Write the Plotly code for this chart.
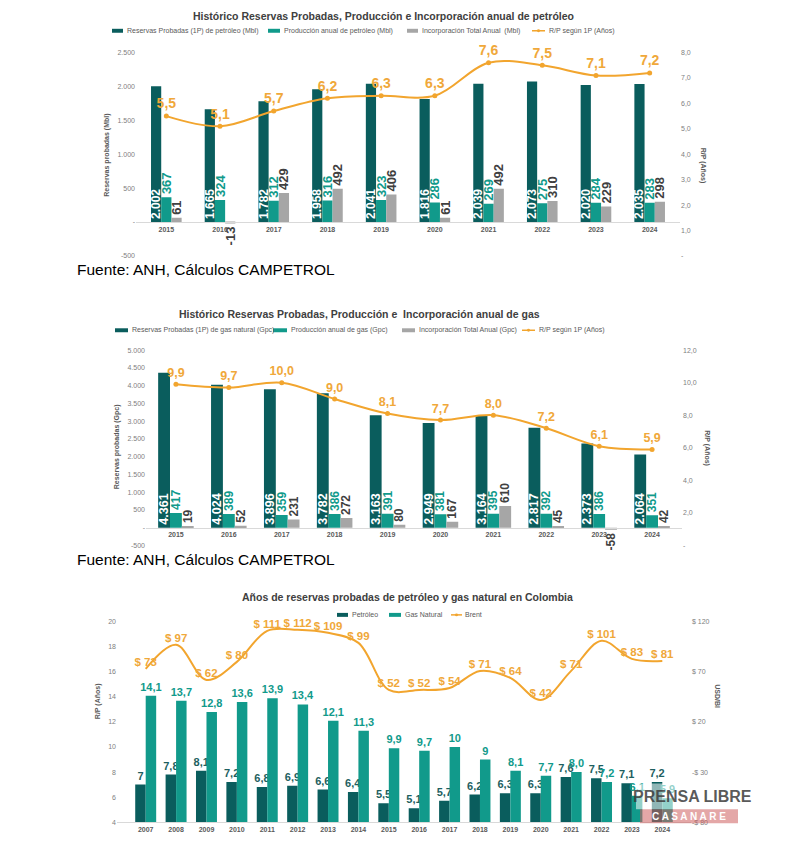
import plotly.graph_objects as go

W, H = 809, 842

# ---------------- data ----------------
years_a = ["2015", "2016", "2017", "2018", "2019", "2020", "2021", "2022", "2023", "2024"]
oil_reserves = [2002, 1665, 1782, 1958, 2041, 1816, 2039, 2073, 2020, 2035]
oil_production = [367, 324, 312, 316, 323, 286, 269, 275, 284, 283]
oil_incorporation = [61, -13, 429, 492, 406, 61, 492, 310, 229, 298]
oil_rp = [5.5, 5.1, 5.7, 6.2, 6.3, 6.3, 7.6, 7.5, 7.1, 7.2]

gas_reserves = [4361, 4024, 3896, 3782, 3163, 2949, 3164, 2817, 2373, 2064]
gas_production = [417, 389, 359, 386, 391, 381, 395, 392, 386, 351]
gas_incorporation = [19, 52, 231, 272, 80, 167, 610, 45, -58, 42]
gas_rp = [9.9, 9.7, 10.0, 9.0, 8.1, 7.7, 8.0, 7.2, 6.1, 5.9]

years_b = [str(y) for y in range(2007, 2025)]
rp_oil = [7, 7.8, 8.1, 7.2, 6.8, 6.9, 6.6, 6.4, 5.5, 5.1, 5.7, 6.2, 6.3, 6.3, 7.6, 7.5, 7.1, 7.2]
rp_oil_labels = ["7", "7,8", "8,1", "7,2", "6,8", "6,9", "6,6", "6,4", "5,5", "5,1", "5,7", "6,2",
                 "6,3", "6,3", "7,6", "7,5", "7,1", "7,2"]
rp_gas = [14.1, 13.7, 12.8, 13.6, 13.9, 13.4, 12.1, 11.3, 9.9, 9.7, 10, 9, 8.1, 7.7, 8.0, 7.2, 6.1, 5.9]
rp_gas_labels = ["14,1", "13,7", "12,8", "13,6", "13,9", "13,4", "12,1", "11,3", "9,9", "9,7", "10",
                 "9", "8,1", "7,7", "8,0", "7,2", "6,1", "5,9"]
brent = [73, 97, 62, 80, 111, 112, 109, 99, 52, 52, 54, 71, 64, 42, 71, 101, 83, 81]

# tick labels
ticks_a_left = [-500, 0, 500, 1000, 1500, 2000, 2500]
ticks_a_left_txt = ["-500", "-", "500", "1.000", "1.500", "2.000", "2.500"]
ticks_a_right = [0, 1, 2, 3, 4, 5, 6, 7, 8]
ticks_a_right_txt = ["-", "1,0", "2,0", "3,0", "4,0", "5,0", "6,0", "7,0", "8,0"]
ticks_b_left = [-500, 0, 500, 1000, 1500, 2000, 2500, 3000, 3500, 4000, 4500, 5000]
ticks_b_left_txt = ["-500", "-", "500", "1.000", "1.500", "2.000", "2.500", "3.000", "3.500",
                    "4.000", "4.500", "5.000"]
ticks_b_right = [0, 2, 4, 6, 8, 10, 12]
ticks_b_right_txt = ["-", "2,0", "4,0", "6,0", "8,0", "10,0", "12,0"]
ticks_c_left = [4, 6, 8, 10, 12, 14, 16, 18, 20]
ticks_c_right = [-80, -30, 20, 70, 120]
ticks_c_right_txt = ["-$ 80", "-$ 30", "$ 20", "$ 70", "$ 120"]

# legend labels
legend_a = ["Reservas Probadas (1P) de petróleo (Mbl)", "Producción anual de petróleo (Mbl)",
            "Incorporación Total Anual  (Mbl)", "R/P según 1P (Años)"]
legend_b = ["Reservas Probadas (1P) de gas natural (Gpc)", "Producción anual de gas (Gpc)",
            "Incorporación Total Anual (Gpc)", "R/P según 1P (Años)"]
legend_c = ["Petróleo", "Gas Natural", "Brent"]

# ---------------- style ----------------
DARK = "#0a5d5d"
TEAL = "#119a8b"
GREY = "#a6a6a6"
ORANGE = "#f2a52e"
ORANGE_TXT = "#f0a83a"
TXT = "#404040"
TICK = "#808080"
FONT = "Liberation Sans"


def py(p):
    return 1 - p / H


def px(p):
    return p / W


fig = go.Figure()


def bar(x, y, xa, ya, color, width, offset, name, **kw):
    return go.Bar(x=x, y=y, xaxis=xa, yaxis=ya, name=name,
                  marker=dict(color=color, line=dict(width=0)), width=width, offset=offset,
                  constraintext="none", textangle=-90, **kw)


# ---- chart 1 (oil) ----
w1 = 0.19
fig.add_trace(bar(years_a, oil_reserves, "x", "y", DARK, w1, -1.5 * w1, legend_a[0],
                  texttemplate="%{y:,.0f}", textposition="inside", insidetextanchor="start",
                  textfont=dict(color="white", size=12, family=FONT, weight="bold")))
fig.add_trace(bar(years_a, oil_production, "x", "y", TEAL, w1, -0.5 * w1, legend_a[1],
                  texttemplate="%{y:,.0f}", textposition="outside", cliponaxis=False,
                  textfont=dict(color=TEAL, size=13, family=FONT, weight="bold")))
fig.add_trace(bar(years_a, oil_incorporation, "x", "y", GREY, w1, 0.5 * w1, legend_a[2],
                  texttemplate="%{y:,.0f}", textposition="outside", cliponaxis=False,
                  textfont=dict(color=TXT, size=13, family=FONT, weight="bold")))
fig.add_trace(go.Scatter(x=years_a, y=oil_rp, xaxis="x", yaxis="y2", name=legend_a[3],
                         mode="lines+markers+text", cliponaxis=False,
                         line=dict(color=ORANGE, width=2, shape="spline"),
                         marker=dict(size=5, color=ORANGE),
                         texttemplate="%{y:.1f}", textposition="top center",
                         textfont=dict(color=ORANGE_TXT, size=14, family=FONT, weight="bold")))

# ---- chart 2 (gas) ----
w2 = 0.224
fig.add_trace(bar(years_a, gas_reserves, "x2", "y3", DARK, w2, -1.5 * w2, legend_b[0],
                  texttemplate="%{y:,.0f}", textposition="inside", insidetextanchor="start",
                  textfont=dict(color="white", size=12.5, family=FONT, weight="bold")))
fig.add_trace(bar(years_a, gas_production, "x2", "y3", TEAL, w2, -0.5 * w2, legend_b[1],
                  texttemplate="%{y:,.0f}", textposition="outside", cliponaxis=False,
                  textfont=dict(color=TEAL, size=12, family=FONT, weight="bold")))
fig.add_trace(bar(years_a, gas_incorporation, "x2", "y3", GREY, w2, 0.5 * w2, legend_b[2],
                  texttemplate="%{y:,.0f}", textposition="outside", cliponaxis=False,
                  textfont=dict(color=TXT, size=12, family=FONT, weight="bold")))
fig.add_trace(go.Scatter(x=years_a, y=gas_rp, xaxis="x2", yaxis="y4", name=legend_b[3],
                         mode="lines+markers+text", cliponaxis=False,
                         line=dict(color=ORANGE, width=2, shape="spline"),
                         marker=dict(size=5, color=ORANGE),
                         texttemplate="%{y:.1f}", textposition="top center",
                         textfont=dict(color=ORANGE_TXT, size=12.5, family=FONT, weight="bold")))

# ---- chart 3 (R/P years + Brent) ----
w3 = 0.345
fig.add_trace(go.Bar(x=years_b, y=rp_oil, xaxis="x3", yaxis="y5", name=legend_c[0],
                     marker=dict(color=DARK, line=dict(width=0)), width=w3, offset=-w3,
                     text=rp_oil_labels, textposition="outside", constraintext="none",
                     textfont=dict(color="#1e5f5f", size=11, family=FONT, weight="bold")))
fig.add_trace(go.Bar(x=years_b, y=rp_gas, xaxis="x3", yaxis="y5", name=legend_c[1],
                     marker=dict(color=TEAL, line=dict(width=0)), width=w3, offset=0,
                     text=rp_gas_labels, textposition="outside", constraintext="none",
                     textfont=dict(color=TEAL, size=11, family=FONT, weight="bold")))
fig.add_trace(go.Scatter(x=years_b, y=brent, xaxis="x3", yaxis="y6", name=legend_c[2],
                         mode="lines+text", cliponaxis=False,
                         line=dict(color=ORANGE, width=2, shape="spline"),
                         texttemplate="$ %{y}", textposition="top center",
                         textfont=dict(color=ORANGE_TXT, size=11.5, family=FONT, weight="bold")))

tickfont = dict(size=7, color=TICK, family=FONT)
xtickfont = dict(size=7, color="#595959", family=FONT, weight="bold")

fig.update_layout(
    width=W, height=H, margin=dict(l=0, r=0, t=0, b=0),
    paper_bgcolor="white", plot_bgcolor="rgba(0,0,0,0)",
    separators=",.", barmode="overlay", showlegend=False,
    font=dict(family=FONT),
    # chart 1
    xaxis=dict(domain=[px(136), px(680)], anchor="free", position=py(220), type="category",
               showline=True, linecolor="#d9d9d9", linewidth=1, ticks="", showgrid=False,
               tickfont=xtickfont),
    yaxis=dict(domain=[py(254), py(49)], anchor="x", range=[-500, 2500], tickvals=ticks_a_left,
               ticktext=ticks_a_left_txt, showgrid=False, zeroline=False, tickfont=tickfont,
               ticks=""),
    yaxis2=dict(overlaying="y", side="right", anchor="x", range=[0, 8], tickvals=ticks_a_right,
                ticktext=ticks_a_right_txt, showgrid=False, zeroline=False, tickfont=tickfont,
                ticks=""),
    # chart 2
    xaxis2=dict(domain=[px(146), px(682)], anchor="free", position=py(528), type="category",
                showline=True, linecolor="#d9d9d9", linewidth=1, ticks="", showgrid=False,
                tickfont=xtickfont),
    yaxis3=dict(domain=[py(546), py(349)], anchor="x2", range=[-500, 5000], tickvals=ticks_b_left,
                ticktext=ticks_b_left_txt, showgrid=False, zeroline=False, tickfont=tickfont,
                ticks=""),
    yaxis4=dict(overlaying="y3", side="right", anchor="x2", range=[0, 12], tickvals=ticks_b_right,
                ticktext=ticks_b_right_txt, showgrid=False, zeroline=False, tickfont=tickfont,
                ticks=""),
    # chart 3
    xaxis3=dict(domain=[px(117), px(691)], anchor="y5", type="category",
                showline=True, linecolor="#d9d9d9", linewidth=1, ticks="", showgrid=False,
                tickfont=xtickfont),
    yaxis5=dict(domain=[py(825), py(623)], anchor="x3", range=[4, 20], tickvals=ticks_c_left,
                showgrid=False, zeroline=False, tickfont=tickfont, ticks=""),
    yaxis6=dict(overlaying="y5", side="right", anchor="x3", range=[-80, 120], tickvals=ticks_c_right,
                ticktext=ticks_c_right_txt, showgrid=False, zeroline=False, tickfont=tickfont,
                ticks=""),
)

ann = []
shapes = []


def text(x, y, s, font, xanchor="center", yanchor="middle", **kw):
    ann.append(dict(x=px(x), y=py(y), xref="paper", yref="paper", text=s, showarrow=False,
                    font=font, xanchor=xanchor, yanchor=yanchor, **kw))


title_font = dict(size=10.5, color=TXT, family=FONT, weight="bold")
text(383, 12, "Histórico Reservas Probadas, Producción e Incorporación anual de petróleo", title_font)
text(359, 313, "Histórico Reservas Probadas, Producción e  Incorporación anual de gas", title_font)
text(407, 598, "Años de reservas probadas de petróleo y gas natural en Colombia", title_font)

fuente_font = dict(size=15.5, color="black", family=FONT)
text(75, 268, "Fuente: ANH, Cálculos CAMPETROL", fuente_font, xanchor="left")
text(75, 560, "Fuente: ANH, Cálculos CAMPETROL", fuente_font, xanchor="left")

axt = dict(size=7, color="#595959", family=FONT, weight="bold")
text(107, 153, "Reservas probadas (Mbl)", axt, textangle=-90)
text(703, 163, "R/P (Años)", axt, textangle=90)
text(117, 447, "Reservas probadas (Gpc)", axt, textangle=-90)
text(707, 448, "R/P (Años)", axt, textangle=90)
text(98, 703, "R/P (Años)", axt, textangle=-90)
text(718, 698, "USD/Bl", axt, textangle=90)

# ---- hand-placed legends (compact Excel-style keys) ----
leg_font = dict(size=7, color="#595959", family=FONT)


def legend_row(labels, kinds, colors, sym_x, y):
    for lab, kind, col, (x0, x1) in zip(labels, kinds, colors, sym_x):
        if kind == "bar":
            shapes.append(dict(type="rect", xref="paper", yref="paper", x0=px(x0), x1=px(x1),
                               y0=py(y + 2), y1=py(y - 2), fillcolor=col, line=dict(width=0)))
        else:
            shapes.append(dict(type="line", xref="paper", yref="paper", x0=px(x0), x1=px(x1),
                               y0=py(y), y1=py(y), line=dict(color=col, width=1.5)))
            xm = (x0 + x1) / 2
            shapes.append(dict(type="circle", xref="paper", yref="paper", x0=px(xm - 1.5),
                               x1=px(xm + 1.5), y0=py(y + 1.5), y1=py(y - 1.5), fillcolor=col,
                               line=dict(width=0)))
        text(x1 + 1.5, y, lab, leg_font, xanchor="left")


legend_row(legend_a, ["bar", "bar", "bar", "line"], [DARK, TEAL, GREY, ORANGE],
           [(112, 123), (268, 280), (407, 418), (532, 545)], 27)
legend_row(legend_b, ["bar", "bar", "bar", "line"], [DARK, TEAL, GREY, ORANGE],
           [(115, 128), (273, 287), (402, 415), (522, 535)], 329)
legend_row(legend_c, ["bar", "bar", "line"], [DARK, TEAL, ORANGE],
           [(337, 348), (389, 401), (451, 462)], 616)

# watermark
shapes.append(dict(type="rect", xref="paper", yref="paper", x0=px(636), x1=px(750), y0=py(812),
                   y1=py(786), fillcolor="rgba(255,255,255,0.55)", line=dict(width=0)))
shapes.append(dict(type="rect", xref="paper", yref="paper", x0=px(640), x1=px(738), y0=py(826),
                   y1=py(812), fillcolor="rgba(205,95,95,0.55)", line=dict(width=0)))
text(692, 799, "PRENSA LIBRE", dict(size=16, color="rgba(60,60,60,0.85)", family=FONT, weight="bold"))
text(689, 819, "C A S A N A R E", dict(size=10, color="white", family=FONT, weight="bold"))

fig.update_layout(annotations=ann, shapes=shapes)

fig.write_html("out.html", config={"displayModeBar": False},
               post_script="document.body.style.margin='0px';")
